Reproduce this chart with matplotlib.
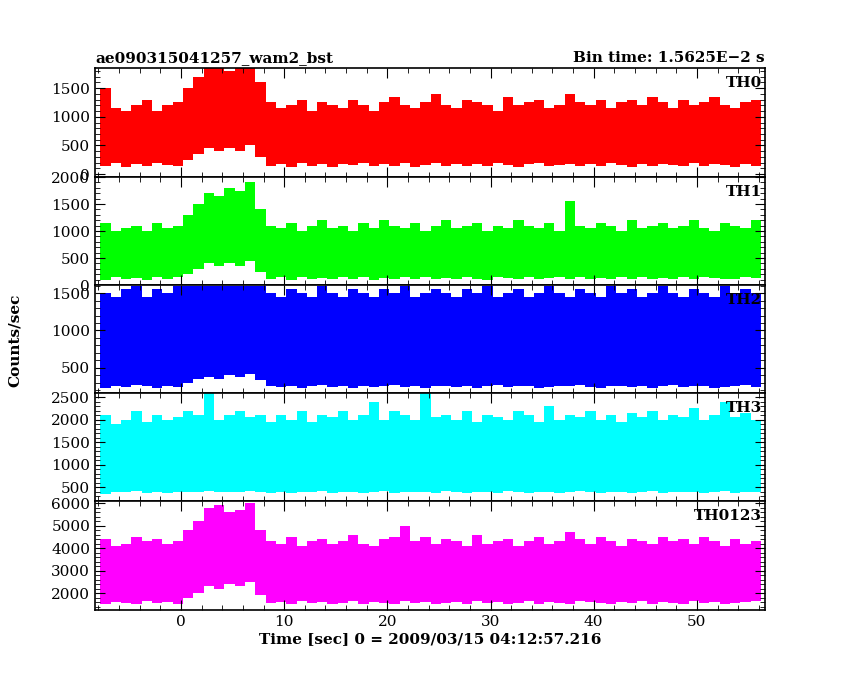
import matplotlib
matplotlib.use("Agg")
import matplotlib.pyplot as plt
from matplotlib.ticker import AutoMinorLocator

plt.rcParams['font.family'] = ['DejaVu Serif']

t = list(range(-8, 56))  # seconds (bin start)

th0_hi = [1500,1150,1100,1200,1300,1100,1200,1250, 1500,1700,1850,1850,1800,1850,1850,1600,
          1250,1150,1200,1300,1100,1250,1200,1150,1300,1200,1100,1250,1350,1200,1150,1250,1400,1200,
          1150,1300,1250,1200,1100,1350,1200,1250,1300,1150,1200,1400,1250,1200,1300,1150,1250,1300,
          1200,1350,1250,1150,1300,1200,1250,1350,1200,1150,1250,1300]
th0_lo = [150,200,120,180,150,200,160,140, 250,350,450,400,450,400,500,300,
          150,180,120,200,150,170,130,180,160,200,140,170,150,190,130,160,200,150,
          180,140,170,150,190,160,130,170,200,150,160,180,140,170,150,190,160,130,
          170,150,180,160,140,190,150,170,160,130,180,150]
th1_hi = [1150,1000,1050,1100,1000,1150,1050,1100, 1300,1500,1700,1650,1800,1750,1900,1400,
          1100,1050,1150,1000,1100,1200,1050,1100,1000,1150,1050,1200,1100,1050,1150,1000,1100,1200,
          1050,1100,1150,1000,1100,1050,1200,1100,1050,1150,1000,1550,1100,1050,1150,1100,1000,1200,
          1050,1100,1150,1050,1100,1200,1050,1000,1150,1100,1050,1200]
th1_lo = [100,150,120,130,100,140,110,150, 200,300,400,350,400,350,450,250,
          120,140,100,150,120,130,110,140,120,150,100,130,120,140,110,150,120,130,
          110,140,120,100,150,130,120,140,110,130,150,120,140,110,130,120,150,110,
          140,120,130,110,150,120,140,130,110,120,150,130]
th2_hi = [1500,1450,1550,1600,1450,1550,1500,1600, 1600,1600,1600,1600,1600,1600,1600,1600,
          1500,1450,1550,1500,1450,1600,1500,1450,1550,1500,1450,1550,1500,1600,1450,1500,1550,1500,
          1450,1550,1500,1600,1450,1500,1550,1450,1500,1600,1500,1450,1550,1500,1450,1600,1500,1550,
          1450,1500,1600,1500,1450,1550,1500,1450,1600,1500,1550,1500]
th2_lo = [230,260,240,270,250,230,260,240, 300,350,380,350,400,380,420,330,
          250,240,260,230,250,270,240,260,230,250,240,260,270,240,250,230,260,250,
          240,260,230,250,270,240,260,250,230,240,260,250,270,240,230,260,250,240,
          260,230,250,270,240,250,260,230,240,250,270,240]
th3_hi = [2100,1900,2000,2200,1950,2100,2000,2050, 2200,2100,2600,2000,2100,2200,2050,2100,
          1950,2100,2000,2200,1950,2100,2050,2200,2000,2100,2400,2000,2200,2100,2000,2600,2050,2100,
          2000,2200,1950,2100,2050,2000,2200,2100,1950,2300,2000,2100,2050,2200,2000,2100,1950,2150,
          2050,2200,2000,2100,2050,2250,2000,2100,2400,2050,2150,2000]
th3_lo = [350,400,380,420,360,400,370,390, 400,380,420,400,390,380,410,400,
          370,390,360,400,380,410,370,390,400,360,380,420,370,390,400,380,360,410,
          390,370,400,380,360,410,390,370,400,380,360,390,410,380,370,400,390,360,
          380,410,370,390,400,380,360,390,410,370,400,380]
th4_hi = [4400,4100,4200,4500,4300,4400,4200,4300, 4800,5200,5800,5900,5600,5700,6000,4800,
          4300,4200,4500,4100,4300,4400,4200,4300,4600,4200,4100,4400,4500,5000,4300,4500,4200,4400,
          4300,4100,4600,4200,4300,4400,4100,4300,4500,4200,4300,4700,4400,4200,4500,4300,4100,4400,
          4300,4200,4500,4300,4400,4200,4500,4300,4100,4400,4200,4300]
th4_lo = [1500,1600,1550,1500,1650,1550,1600,1500, 1800,2000,2300,2200,2400,2300,2500,1900,
          1550,1600,1500,1650,1550,1600,1500,1550,1650,1500,1600,1550,1500,1650,1550,1600,1500,1550,
          1600,1500,1650,1550,1600,1500,1550,1650,1500,1600,1550,1500,1650,1600,1550,1500,1600,1550,
          1650,1500,1600,1550,1500,1650,1550,1600,1500,1550,1600,1650]

series = [("TH0", th0_hi, th0_lo, "#ff0000", (-50, 1850), [0, 500, 1000, 1500]),
          ("TH1", th1_hi, th1_lo, "#00ff00", (0, 1900), [0, 500, 1000, 1500, 2000]),
          ("TH2", th2_hi, th2_lo, "#0000ff", (160, 1610), [500, 1000, 1500]),
          ("TH3", th3_hi, th3_lo, "#00ffff", (190, 2590), [500, 1000, 1500, 2000, 2500]),
          ("TH0123", th4_hi, th4_lo, "#ff00ff", (1245, 6090), [2000, 3000, 4000, 5000, 6000])]

fig = plt.figure(figsize=(8.5, 6.8), dpi=100)
L, R = 95/850, 765/850
edges = [68, 177, 285, 393, 501, 610]
axes = []
for i, (name, hi, lo, col, yl, yt) in enumerate(series):
    y0 = 1 - edges[i+1]/680
    h = (edges[i+1]-edges[i])/680
    ax = fig.add_axes([L, y0, R-L, h])
    ax.bar([x + 0.2 for x in t], [a - b for a, b in zip(hi, lo)], bottom=lo,
           width=1.0, align='edge', color=col, lw=0)
    ax.set_xlim(-8.33, 56.6)
    ax.set_ylim(*yl)
    ax.set_yticks(yt)
    ax.xaxis.set_minor_locator(AutoMinorLocator(5))
    ax.yaxis.set_minor_locator(AutoMinorLocator(5))
    ax.tick_params(which='both', direction='in', top=True, right=True, labelsize=11)
    ax.tick_params(which='major', length=7)
    ax.tick_params(which='minor', length=3.5)
    ax.text(0.995, 0.93, name, transform=ax.transAxes, ha='right', va='top',
            fontsize=11, fontweight='bold')
    for s in ax.spines.values():
        s.set_linewidth(1.2)
    if i < 4:
        ax.set_xticklabels([])
    axes.append(ax)

axes[0].set_title("ae090315041257_wam2_bst", loc='left', fontsize=11, fontweight='bold', pad=4)
axes[0].set_title("Bin time: 1.5625E\u22122 s", loc='right', fontsize=11, fontweight='bold', pad=4)
axes[-1].set_xlabel("Time [sec] 0 = 2009/03/15 04:12:57.216", fontsize=11, fontweight='bold', labelpad=2)
fig.text(0.018, 0.5, "Counts/sec", rotation=90, va='center', ha='center', fontsize=11, fontweight='bold')

fig.savefig("out.png", dpi=100)
